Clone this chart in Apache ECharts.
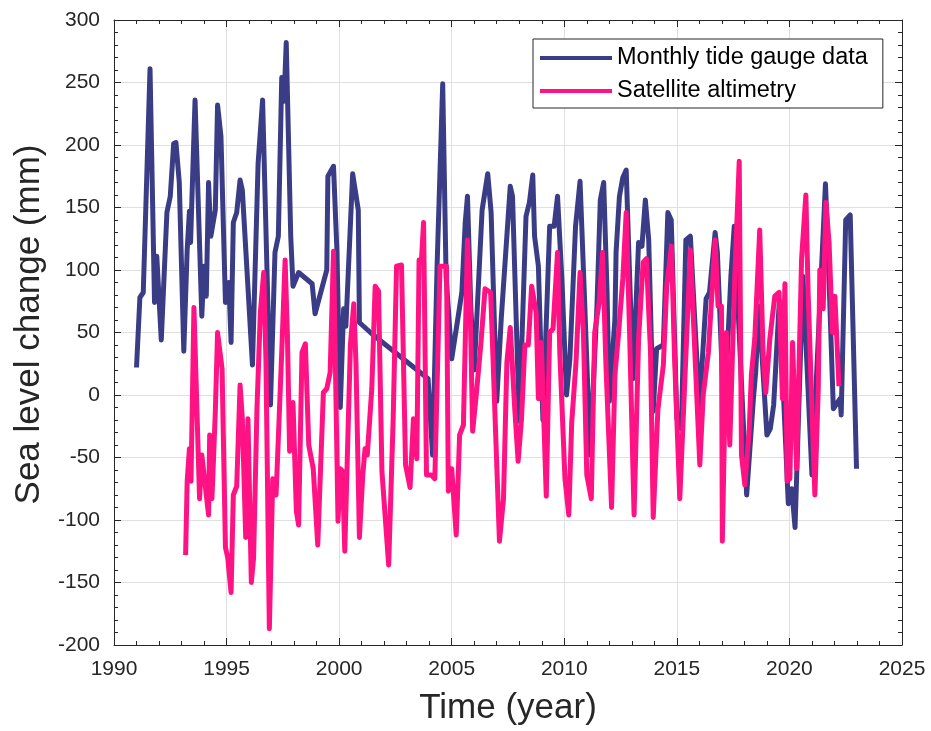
<!DOCTYPE html>
<html>
<head>
<meta charset="utf-8">
<script src="https://cdn.jsdelivr.net/npm/echarts@6/dist/echarts.min.js"></script>
<style>html,body{margin:0;padding:0;background:#fff}#c{width:931px;height:731px}</style>
</head>
<body>
<div id="c"></div>
<script>
// ---- Data ----
const seriesNames = ['Monthly tide gauge data', 'Satellite altimetry'];

const tideYears = [1991.0,1991.15,1991.3,1991.6,1991.8,1991.9,1992.1,1992.35,1992.5,1992.65,1992.75,1992.9,
 1993.1,1993.25,1993.35,1993.4,1993.6,1993.9,1994.0,1994.1,1994.2,1994.3,1994.5,1994.6,1994.75,1994.95,
 1995.1,1995.2,1995.3,1995.45,1995.6,1995.7,1996.15,1996.4,1996.6,1996.95,1997.15,1997.3,1997.45,1997.55,
 1997.65,1997.85,1997.95,1998.2,1998.8,1998.93,1999.45,1999.5,1999.75,1999.9,2000.05,2000.2,2000.3,2000.6,
 2000.85,2000.9,2001.45,2003.95,2004.15,2004.35,2004.6,2004.75,2005.0,2005.45,2005.6,2005.7,2005.85,2006.0,
 2006.35,2006.6,2006.75,2007.0,2007.2,2007.4,2007.6,2007.7,2008.0,2008.3,2008.45,2008.6,2008.68,2008.85,
 2009.05,2009.35,2009.55,2009.7,2009.9,2010.1,2010.25,2010.5,2010.7,2010.9,2011.15,2011.45,2011.6,2011.75,
 2011.9,2012.0,2012.25,2012.3,2012.45,2012.6,2012.75,2012.85,2013.05,2013.3,2013.45,2013.6,2013.75,2013.95,
 2014.1,2014.4,2014.6,2014.75,2015.0,2015.2,2015.4,2015.6,2016.0,2016.3,2016.45,2016.7,2016.8,2017.1,
 2017.4,2017.55,2018.1,2018.4,2018.5,2018.65,2019.0,2019.15,2019.3,2019.55,2019.95,2020.1,2020.25,2020.6,
 2021.0,2021.6,2021.7,2021.95,2022.25,2022.3,2022.5,2022.7,2022.98];
const tideValues = [22,78,82,261,74,111,44,146,159,201,202,170,
 35,116,147,122,236,63,103,79,170,127,148,232,207,74,
 90,42,138,146,172,164,24,185,236,-8,114,127,254,235,
 282,127,87,98,89,65,100,175,183,116,-10,69,55,177,
 148,58,49,13,-48,103,249,95,29,82,138,159,69,20,
 148,177,146,-5,61,114,167,159,-21,143,154,176,127,103,
 -20,135,135,159,90,0,29,135,171,77,-48,71,156,170,
 82,-5,61,114,159,174,180,124,13,122,119,156,124,-13,
 37,40,146,140,-19,-27,124,127,-10,77,82,130,114,-20,
 95,135,-80,-3,18,71,-32,-27,-8,75,-87,-75,-106,95,
 -64,169,124,-11,-3,-16,140,144,-59];

const satYears = [1993.18,1993.25,1993.35,1993.42,1993.55,1993.8,1993.9,1994.2,1994.25,1994.35,1994.5,1994.6,
 1994.8,1994.95,1995.05,1995.2,1995.3,1995.45,1995.6,1995.7,1995.85,1995.95,1996.1,1996.2,1996.35,1996.5,
 1996.65,1996.75,1996.9,1997.05,1997.2,1997.45,1997.6,1997.7,1997.8,1997.95,1998.1,1998.2,1998.35,1998.5,
 1998.65,1998.85,1999.05,1999.3,1999.45,1999.6,1999.75,1999.95,2000.05,2000.15,2000.25,2000.5,2000.65,2000.75,
 2000.9,2001.05,2001.15,2001.25,2001.45,2001.6,2001.75,2001.9,2002.2,2002.4,2002.55,2002.77,2002.95,2003.15,
 2003.3,2003.45,2003.55,2003.65,2003.75,2003.88,2004.1,2004.25,2004.48,2004.77,2004.85,2005.0,2005.2,2005.35,
 2005.52,2005.7,2005.82,2005.93,2006.1,2006.3,2006.48,2006.73,2006.85,2007.12,2007.3,2007.45,2007.6,2007.8,
 2007.95,2008.1,2008.25,2008.4,2008.55,2008.75,2008.85,2008.98,2009.2,2009.35,2009.5,2009.7,2009.8,2010.03,
 2010.2,2010.33,2010.52,2010.7,2010.85,2011.0,2011.2,2011.35,2011.55,2011.7,2011.85,2012.1,2012.25,2012.4,
 2012.6,2012.75,2012.9,2013.1,2013.3,2013.5,2013.65,2013.83,2013.95,2014.16,2014.4,2014.55,2014.76,2014.9,
 2015.13,2015.35,2015.6,2015.8,2016.02,2016.17,2016.4,2016.7,2016.83,2016.98,2017.02,2017.2,2017.35,2017.57,
 2017.77,2017.87,2018.02,2018.21,2018.31,2018.46,2018.68,2018.83,2018.95,2019.13,2019.35,2019.54,2019.69,2019.8,
 2019.9,2020.02,2020.14,2020.32,2020.54,2020.73,2020.83,2021.13,2021.28,2021.35,2021.5,2021.62,2021.76,2021.91,
 2022.02,2022.2];
const satValues = [-128,-69,-43,-69,70,-83,-48,-96,-32,-83,-14,50,
 21,-122,-130,-158,-80,-73,8,-19,-114,-19,-150,-130,-11,66,
 98,26,-187,-67,-80,34,108,50,-45,-6,-93,-104,34,41,
 -40,-59,-120,2,5,18,115,-101,-59,-61,-125,40,73,24,
 -114,-64,-43,-48,5,87,83,-61,-136,-19,103,104,-56,-74,
 -19,-51,108,106,138,-64,-64,-67,103,103,-77,-59,-112,-32,
 -24,124,71,-29,2,42,85,82,21,-117,-83,26,54,-11,
 -53,-19,40,40,87,66,-3,42,-81,50,53,114,34,-67,
 -96,-22,26,98,50,-64,-83,50,74,114,24,-90,16,47,
 93,146,50,-96,45,106,109,34,-98,-11,24,87,119,29,
 -83,10,116,34,-56,0,34,124,71,71,-117,50,-40,93,
 187,-48,-72,-29,16,45,132,34,2,45,79,82,-3,89,
 -69,-67,42,-59,109,160,82,-80,5,100,69,154,122,50,
 79,7];

const xTicks = {min: 1990, max: 2025, step: 5};
const yTicks = {min: -200, max: 300, step: 50};

// ---- Chart ----
const tidePairs = tideYears.map((x, i) => [x, tideValues[i]]);
const satPairs = satYears.map((x, i) => [x, satValues[i]]);

const txt = '#262626';
const axisCol = '#262626';
const font = "'Liberation Sans', Arial, Helvetica, sans-serif";

function axisCommon(showLabel) {
  return {
    axisLine: {show: true, onZero: false, lineStyle: {color: axisCol, width: 1}},
    axisTick: {show: true, inside: true, length: 7, lineStyle: {color: axisCol}},
    minorTick: {show: true, splitNumber: 5, length: 4, lineStyle: {color: axisCol}},
    axisLabel: {show: showLabel, color: txt, fontFamily: font, fontSize: 21, margin: 14},
  };
}

const chart = echarts.init(document.getElementById('c'), null, {renderer: 'canvas'});
chart.setOption({
  animation: false,
  backgroundColor: '#ffffff',
  grid: {left: 114, top: 20, right: 29, bottom: 84, containLabel: false},
  legend: {
    orient: 'vertical',
    left: 533, top: 39,
    padding: [7, 15, 5, 7],
    itemGap: 9,
    itemWidth: 72, itemHeight: 4,
    icon: 'rect',
    backgroundColor: '#ffffff',
    borderColor: '#262626', borderWidth: 1,
    textStyle: {color: '#000', fontFamily: font, fontSize: 23.5},
    data: seriesNames
  },
  xAxis: [
    Object.assign(axisCommon(true), {
      type: 'value', min: xTicks.min, max: xTicks.max, interval: xTicks.step,
      name: 'Time (year)', nameLocation: 'middle', nameGap: 46,
      nameTextStyle: {color: txt, fontFamily: font, fontSize: 35},
      splitLine: {show: true, lineStyle: {color: '#e0e0e0', width: 1}},
      axisLabel: {show: true, color: txt, fontFamily: font, fontSize: 21, margin: 14,
        formatter: v => String(v)}
    }),
    Object.assign(axisCommon(false), {
      type: 'value', position: 'top', min: xTicks.min, max: xTicks.max, interval: xTicks.step,
      splitLine: {show: false}
    })
  ],
  yAxis: [
    Object.assign(axisCommon(true), {
      type: 'value', min: yTicks.min, max: yTicks.max, interval: yTicks.step,
      name: 'Sea level change (mm)', nameLocation: 'middle', nameGap: 66, nameRotate: 90,
      nameTextStyle: {color: txt, fontFamily: font, fontSize: 35, padding: [0, 0, 0, 16]},
      splitLine: {show: true, lineStyle: {color: '#e0e0e0', width: 1}}
    }),
    Object.assign(axisCommon(false), {
      type: 'value', position: 'right', min: yTicks.min, max: yTicks.max, interval: yTicks.step,
      splitLine: {show: false}
    })
  ],
  series: [
    {
      name: seriesNames[0], type: 'line', xAxisIndex: 0, yAxisIndex: 0,
      data: tidePairs, showSymbol: false, symbol: 'none',
      lineStyle: {color: '#3a3d86', width: 5, join: 'round'},
      itemStyle: {color: '#3a3d86'}
    },
    {
      name: seriesNames[1], type: 'line', xAxisIndex: 0, yAxisIndex: 0,
      data: satPairs, showSymbol: false, symbol: 'none',
      lineStyle: {color: '#ff1283', width: 5, join: 'round'},
      itemStyle: {color: '#ff1283'}
    }
  ]
});
</script>
</body>
</html>
